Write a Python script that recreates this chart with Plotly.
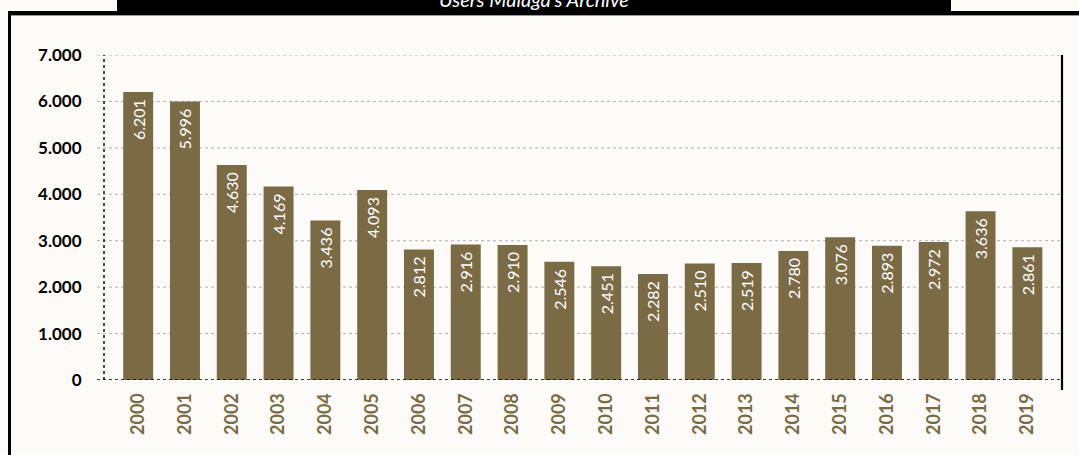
import plotly.graph_objects as go

years = [str(y) for y in range(2000, 2020)]
values = [6201, 5996, 4630, 4169, 3436, 4093, 2812, 2916, 2910, 2546,
          2451, 2282, 2510, 2519, 2780, 3076, 2893, 2972, 3636, 2861]
y_ticks = [0, 1000, 2000, 3000, 4000, 5000, 6000, 7000]
title_text = "Users Malaga's Archive"

W, H = 1079, 455
ML, MR, MT, MB = 104, 17, 55, 75
PW, PH = W - ML - MR, H - MT - MB

def px(x):
    return (x - ML) / PW

def py(y):
    return (H - MB - y) / PH

bar_color = "#7b6b45"
bg = "#fcfbf7"

fig = go.Figure()
fig.add_trace(go.Bar(
    x=years, y=values,
    marker=dict(color=bar_color, line=dict(width=0)),
    texttemplate="%{y:,}\u00a0",
    textposition="inside",
    insidetextanchor="end",
    textangle=-90,
    constraintext="none",
    textfont=dict(color="white", size=16, family="Lato"),
    width=0.64,
    hoverinfo="skip",
))

shapes = []
# gridlines
for t in y_ticks:
    shapes.append(dict(type="line", xref="paper", yref="y",
                       x0=px(97), x1=1, y0=t, y1=t,
                       line=dict(color="black" if t == 0 else "#b0b0b0",
                                 width=1.4 if t == 0 else 1, dash="dot"),
                       layer="above" if t == 0 else "below"))
# y axis dotted line
shapes.append(dict(type="line", xref="paper", yref="y", x0=0, x1=0,
                   y0=0, y1=max(y_ticks),
                   line=dict(color="black", width=1.4, dash="dot")))
# right solid line
shapes.append(dict(type="line", xref="paper", yref="paper", x0=1, x1=1,
                   y0=py(390), y1=1, line=dict(color="black", width=2.2)))
# frame
shapes.append(dict(type="rect", xref="paper", yref="paper",
                   x0=px(8), x1=px(1080), y0=py(15), y1=py(11),
                   fillcolor="black", line=dict(width=0)))
shapes.append(dict(type="rect", xref="paper", yref="paper",
                   x0=px(8), x1=px(11), y0=py(456), y1=py(11),
                   fillcolor="black", line=dict(width=0)))
shapes.append(dict(type="line", xref="paper", yref="paper",
                   x0=px(11), x1=px(1080), y0=py(15.5), y1=py(15.5),
                   line=dict(color="#999999", width=1)))
# banner
shapes.append(dict(type="rect", xref="paper", yref="paper",
                   x0=px(117), x1=px(951), y0=py(15), y1=py(-1),
                   fillcolor="black", line=dict(width=0)))

fig.update_layout(
    width=W, height=H,
    margin=dict(l=ML, r=MR, t=MT, b=MB),
    paper_bgcolor=bg, plot_bgcolor=bg,
    separators=",.",
    showlegend=False,
    shapes=shapes,
    annotations=[dict(text="<i>" + title_text + "</i>", xref="paper", yref="paper",
                      x=px(534), y=py(-1.5), xanchor="center", yanchor="middle",
                      showarrow=False,
                      font=dict(color="white", size=20, family="Lato"))],
    xaxis=dict(
        type="category",
        range=[-0.73, 19.74],
        showgrid=False, zeroline=False, showline=False,
        tickangle=-90,
        tickfont=dict(color=bar_color, size=18, family="Lato", weight="bold"),
        ticks="outside", ticklen=5, tickcolor="rgba(0,0,0,0)",
    ),
    yaxis=dict(
        range=[0, 7000],
        tickvals=y_ticks,
        tickformat=",",
        showgrid=False, zeroline=False, showline=False,
        tickfont=dict(color="black", size=17, family="Lato", weight="bold"),
        ticks="outside", ticklen=18, tickcolor="rgba(0,0,0,0)",
    ),
)

fig.write_html("out.html", config={"displayModeBar": False},
               post_script="document.body.style.margin='0px';")
